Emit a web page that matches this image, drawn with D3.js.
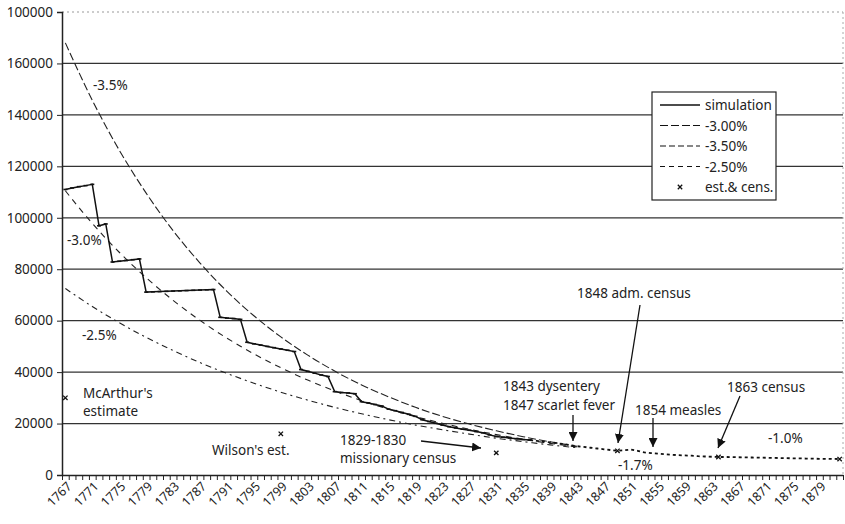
<!DOCTYPE html>
<html>
<head>
<meta charset="utf-8">
<script src="https://cdn.jsdelivr.net/npm/d3@7"></script>
<style>
  body { margin: 0; background: #fff; }
  svg { display: block; font-family: "Noto Sans", "Open Sans", sans-serif; }
  .ann { font-size: 13.5px; fill: #222; }
  .ylab { font-size: 13.5px; fill: #222; }
  .xlab { font-size: 12.5px; fill: #222; }
</style>
</head>
<body>
<svg id="chart" width="845" height="524"></svg>
<script>
// simulated population, one value per year 1767..1882
const simYears = d3.range(1767, 1883);
const simValues = [
  111000, 111600, 112100, 112500, 113000, 96900, 97600, 82800, 83100, 83400,
  83700, 84000, 71100, 71200, 71300, 71400, 71500, 71600, 71700, 71800,
  71900, 72000, 72100, 61300, 61000, 60800, 60500, 51600, 51000, 50500,
  50000, 49500, 49000, 48500, 48000, 41000, 40300, 39600, 38900, 38300,
  32400, 32100, 31900, 31600, 28500, 28000, 27400, 26800, 25600, 25000,
  24300, 23600, 22800, 21500, 20800, 20100, 19400, 18800, 18300, 17800,
  17400, 16900, 16400, 15600, 15000, 14700, 14400, 14100, 13800, 13600,
  13300, 13000, 12700, 12400, 12000, 11600, 11200, 10900, 10600, 10300,
  10000, 9700, 9400, 9600, 9900, 9400, 8800, 8500, 8300, 8100,
  7900, 7700, 7600, 7500, 7300, 7200, 7100, 7000, 7000, 6950,
  6900, 6850, 6800, 6750, 6700, 6650, 6600, 6550, 6500, 6450,
  6400, 6350, 6300, 6280, 6250, 6200
];
// year where the simulation turns from solid to dotted
const simSplit = 1836;

// constant-rate curves, read every 4 years
const curveYears = [1767, 1771, 1775, 1779, 1783, 1787, 1791, 1795, 1799, 1803,
                    1807, 1811, 1815, 1819, 1823, 1827, 1831, 1835, 1839, 1843];
const rate35 = [168000, 145700, 126300, 109600, 95000, 82400, 71400, 61900, 53700, 46600,
                40400, 35000, 30400, 26300, 22800, 19800, 17200, 14900, 12900, 11200];
const rate30 = [110500, 97800, 86600, 76700, 67900, 60100, 53200, 47100, 41700, 36900,
                32700, 28900, 25600, 22700, 20100, 17800, 15700, 13900, 12300, 10900];
const rate25 = [72500, 65500, 59200, 53500, 48400, 43700, 39500, 35700, 32200, 29100,
                26300, 23800, 21500, 19400, 17600, 15900, 14300, 13000, 11700, 10600];

// estimates and censuses
const estYears = [1767, 1799, 1831, 1849, 1864, 1882];
const estValues = [30000, 16000, 8600, 9400, 7000, 6200];

const yTicks = [0, 20000, 40000, 60000, 80000, 100000, 120000, 140000, 160000, 180000];
const yTickLabels = ["0", "20000", "40000", "60000", "80000", "100000", "120000", "140000", "160000", "100000"];
const xLabelYears = d3.range(1767, 1880, 4);

const legendNames = ["simulation", "-3.00%", "-3.50%", "-2.50%", "est.& cens."];

const svg = d3.select("#chart");
const pLeft = 62, pRight = 843, pTop = 12, pBottom = 475;

const x = d3.scaleLinear().domain([1766.5, 1882.5]).range([pLeft, pRight]);
const y = d3.scaleLinear().domain([0, 180000]).range([pBottom, pTop]);

// grid
svg.append("g")
  .selectAll("line")
  .data(yTicks.slice(1))
  .enter()
  .append("line")
  .attr("x1", pLeft).attr("x2", pRight)
  .attr("y1", d => y(d)).attr("y2", d => y(d))
  .attr("stroke", d => d == 180000 ? "#999" : "#333")
  .attr("stroke-width", d => d == 180000 ? 1 : 1.3)
  .attr("stroke-dasharray", d => d == 180000 ? "2,3" : null);

// faint right border
svg.append("line")
  .attr("x1", pRight).attr("x2", pRight)
  .attr("y1", pTop).attr("y2", pBottom)
  .attr("stroke", "#aaa").attr("stroke-dasharray", "2,3");

// y axis
const yAxis = svg.append("g")
  .attr("transform", `translate(${pLeft},0)`)
  .call(d3.axisLeft(y).tickValues(yTicks).tickSize(5).tickFormat((d, i) => yTickLabels[i]));
yAxis.attr("font-family", null).attr("font-size", null);
yAxis.select(".domain").attr("stroke", "#222").attr("stroke-width", 1.5);
yAxis.selectAll(".tick line").attr("stroke", "#222");
yAxis.selectAll("text").attr("class", "ylab").attr("x", -9);

// x axis: ticks between years
const xTickPos = d3.range(1766.5, 1883, 1);
const xAxis = svg.append("g")
  .attr("transform", `translate(0,${pBottom})`)
  .call(d3.axisBottom(x).tickValues(xTickPos).tickSize(5).tickSizeOuter(0).tickFormat(""));
xAxis.select(".domain").attr("stroke", "#222").attr("stroke-width", 1.5);
xAxis.selectAll(".tick line").attr("stroke", "#222");

// rotated year labels
const xl = svg.append("g")
  .selectAll("g")
  .data(xLabelYears)
  .enter()
  .append("g")
  .attr("transform", d => "translate(" + (x(d) + 4) + "," + (pBottom + 9) + ")");
xl.append("text")
  .attr("class", "xlab")
  .attr("text-anchor", "end")
  .attr("transform", "rotate(-45)")
  .attr("dy", "0.35em")
  .text(d => d);

// constant-rate curves
const curveLine = d3.line()
  .x((d, i) => x(curveYears[i]))
  .y(d => y(d))
  .curve(d3.curveMonotoneX);

svg.append("path").datum(rate35).attr("d", curveLine)
  .attr("fill", "none").attr("stroke", "#222").attr("stroke-width", 1.1)
  .attr("stroke-dasharray", "8,3");
svg.append("path").datum(rate30).attr("d", curveLine)
  .attr("fill", "none").attr("stroke", "#222").attr("stroke-width", 1.1)
  .attr("stroke-dasharray", "6,5");
svg.append("path").datum(rate25).attr("d", curveLine)
  .attr("fill", "none").attr("stroke", "#222").attr("stroke-width", 1.1)
  .attr("stroke-dasharray", "6,4,2,4");

// simulation
const simData = simYears.map((yr, i) => ({ yr: yr, v: simValues[i] }));
const simLine = d3.line().x(d => x(d.yr)).y(d => y(d.v));

svg.append("path")
  .datum(simData.filter(d => d.yr <= simSplit))
  .attr("d", simLine)
  .attr("fill", "none").attr("stroke", "#111").attr("stroke-width", 1.5);
svg.append("path")
  .datum(simData.filter(d => d.yr >= simSplit))
  .attr("d", simLine)
  .attr("fill", "none").attr("stroke", "#111").attr("stroke-width", 1.8)
  .attr("stroke-dasharray", "3,3");

// little dash markers on the simulation
svg.append("g")
  .selectAll("line")
  .data(simData.filter(d => d.yr <= simSplit))
  .enter()
  .append("line")
  .attr("x1", d => x(d.yr) - 2).attr("x2", d => x(d.yr) + 2)
  .attr("y1", d => y(d.v)).attr("y2", d => y(d.v))
  .attr("stroke", "#111").attr("stroke-width", 1.6);

// estimates: small x marks
function cross(g, cx, cy, s) {
  g.append("path")
    .attr("d", `M${cx - s},${cy - s}L${cx + s},${cy + s}M${cx + s},${cy - s}L${cx - s},${cy + s}`)
    .attr("stroke", "#111").attr("stroke-width", 1.3).attr("fill", "none");
}
const estG = svg.append("g");
estYears.forEach((yr, i) => cross(estG, x(yr), y(estValues[i]), 2.2));

// annotations
const texts = [
  ["-3.5%", 93, 90], ["-3.0%", 67, 245], ["-2.5%", 82, 340],
  ["McArthur's", 83, 398], ["estimate", 83, 416],
  ["Wilson's est.", 212, 455],
  ["1829-1830", 340, 445], ["missionary census", 340, 463],
  ["1843 dysentery", 503, 391], ["1847 scarlet fever", 503, 410],
  ["1848 adm. census", 577, 298],
  ["1854 measles", 635, 415],
  ["1863 census", 727, 392],
  ["-1.0%", 768, 443], ["-1.7%", 618, 470]
];
svg.append("g")
  .selectAll("text")
  .data(texts)
  .enter()
  .append("text")
  .attr("class", "ann")
  .attr("x", d => d[1]).attr("y", d => d[2])
  .text(d => d[0]);

svg.append("defs").append("marker")
  .attr("id", "arr")
  .attr("viewBox", "0 0 10 10")
  .attr("refX", 10).attr("refY", 5)
  .attr("markerWidth", 9).attr("markerHeight", 9)
  .attr("markerUnits", "userSpaceOnUse")
  .attr("orient", "auto")
  .append("path").attr("d", "M0,0L10,5L0,10z").attr("fill", "#111");

const arrows = [
  [421, 441, 481, 448],
  [573, 415, 573, 441],
  [640, 305, 618, 443],
  [653, 418, 653, 447],
  [740, 396, 718, 448]
];
svg.append("g")
  .selectAll("line")
  .data(arrows)
  .enter()
  .append("line")
  .attr("x1", d => d[0]).attr("y1", d => d[1])
  .attr("x2", d => d[2]).attr("y2", d => d[3])
  .attr("stroke", "#111").attr("stroke-width", 1.3)
  .attr("marker-end", "url(#arr)");

// legend
const lg = svg.append("g").attr("transform", "translate(652,92)");
lg.append("rect").attr("width", 124).attr("height", 108)
  .attr("fill", "#fff").attr("stroke", "#222").attr("stroke-width", 1.2);
const dashes = [null, "8,3", "6,3", "5,4", null];
legendNames.forEach((name, i) => {
  const ry = 13 + i * 20.5;
  if (i < 4) {
    lg.append("line")
      .attr("x1", 8).attr("x2", 48).attr("y1", ry).attr("y2", ry)
      .attr("stroke", "#111").attr("stroke-width", i == 0 ? 1.6 : 1.2)
      .attr("stroke-dasharray", dashes[i]);
  } else {
    cross(lg, 28, ry, 2.2);
  }
  lg.append("text").attr("class", "ann").attr("x", 53).attr("y", ry + 5).text(name);
});
</script>
</body>
</html>
